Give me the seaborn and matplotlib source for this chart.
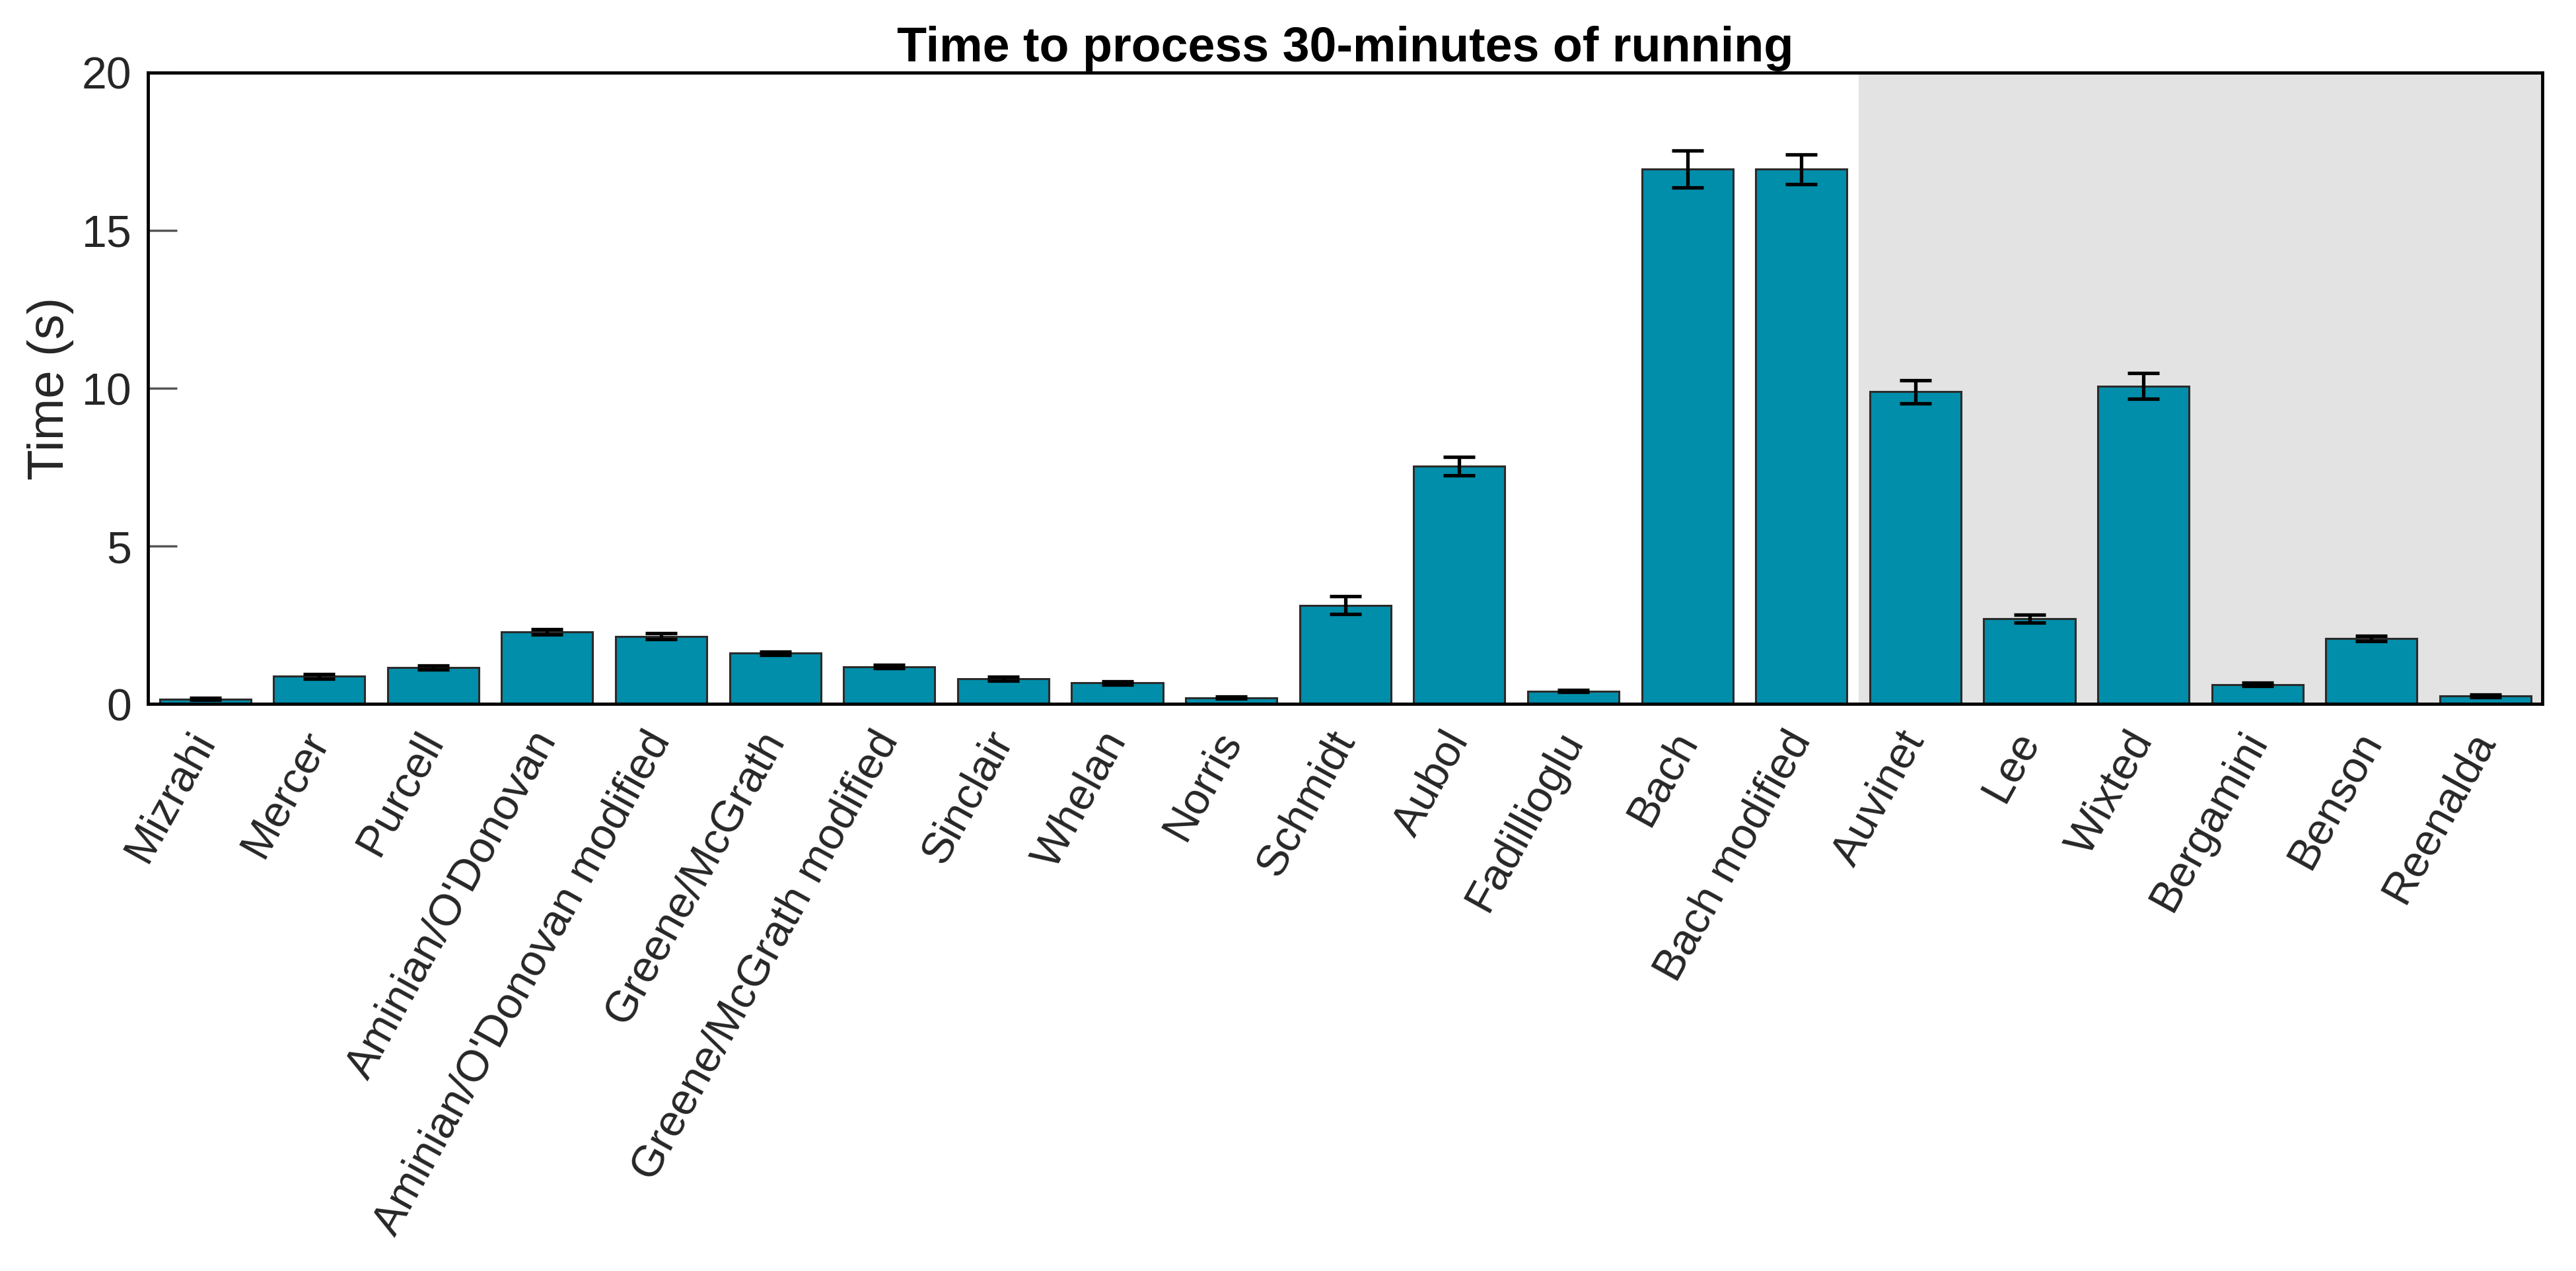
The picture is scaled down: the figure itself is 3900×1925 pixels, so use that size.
import numpy as np
import matplotlib
matplotlib.use("Agg")
import matplotlib.pyplot as plt
import matplotlib.transforms as mtransforms
import seaborn as sns

# Datos
methods = ["Mizrahi", "Mercer", "Purcell", "Aminian/O'Donovan",
           "Aminian/O'Donovan modified", "Greene/McGrath",
           "Greene/McGrath modified", "Sinclair", "Whelan", "Norris",
           "Schmidt", "Aubol", "Fadillioglu", "Bach", "Bach modified",
           "Auvinet", "Lee", "Wixted", "Bergamini", "Benson", "Reenalda"]
times = [0.16, 0.88, 1.16, 2.29, 2.15, 1.61, 1.19, 0.81, 0.67, 0.20,
         3.13, 7.53, 0.41, 16.94, 16.94, 9.89, 2.71, 10.07, 0.62, 2.08, 0.26]
errors = [0.03, 0.07, 0.07, 0.09, 0.09, 0.05, 0.05, 0.06, 0.06, 0.03,
          0.28, 0.29, 0.03, 0.58, 0.47, 0.37, 0.12, 0.41, 0.05, 0.08, 0.04]
yticks = [0, 5, 10, 15, 20]
first_shaded = "Auvinet"

sns.set_style("white")
plt.rcParams['font.family'] = ['Liberation Sans', 'DejaVu Sans']

fig, ax = plt.subplots(figsize=(39, 19.25), dpi=100)
fig.subplots_adjust(left=0.0575, right=0.987, top=0.943, bottom=0.446)

# zona sombreada
start = methods.index(first_shaded)
ax.axvspan(start - 0.5, len(methods) - 0.5, color='#e3e3e3', zorder=0, lw=0)

sns.barplot(x=methods, y=times, color='#018EAA', saturation=1, width=0.8,
            edgecolor='#2b2b2b', linewidth=2.2, errorbar=None, ax=ax, zorder=2)
ax.errorbar(np.arange(len(methods)), times, yerr=errors, fmt='none',
            ecolor='black', elinewidth=3.8, capsize=17, capthick=3.8, zorder=3)

ax.set_xlim(-0.5, len(methods) - 0.5)
ax.set_ylim(0, 20)
ax.set_yticks(yticks)
ax.set_yticklabels([str(t) for t in yticks], fontsize=49, color='#262626')
ax.set_xticks(np.arange(len(methods)))
ax.set_xticklabels(methods, rotation=61, ha='right', va='center',
                   rotation_mode='anchor', fontsize=48, color='#262626')
# desplazar un poco las etiquetas hacia la derecha
shift = mtransforms.ScaledTranslation(36 / 72, 0, fig.dpi_scale_trans)
for lbl in ax.get_xticklabels():
    lbl.set_transform(lbl.get_transform() + shift)
ax.tick_params(axis='y', direction='in', length=32, width=2.5, color='#555555',
               left=True, right=False, pad=18)
ax.tick_params(axis='x', length=0, pad=33)
for s in ax.spines.values():
    s.set_color('black')
    s.set_linewidth(3.5)

ax.set_ylabel('Time (s)', fontsize=55, color='#262626', labelpad=8)
ax.set_xlabel('')
ax.set_title('Time to process 30-minutes of running', fontsize=53,
             fontweight='bold', color='black', pad=12)

plt.savefig('out.png', dpi=100)
